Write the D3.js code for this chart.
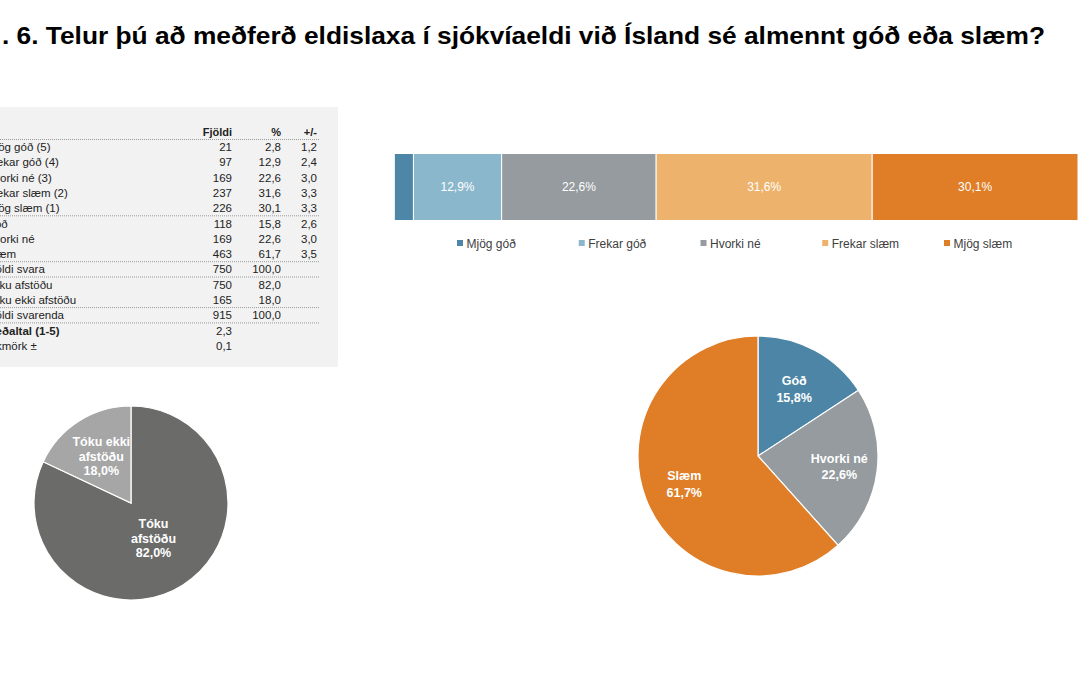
<!DOCTYPE html>
<html>
<head>
<meta charset="utf-8">
<script src="https://cdn.jsdelivr.net/npm/d3@7/dist/d3.min.js"></script>
<style>
  html, body { margin: 0; padding: 0; background: #ffffff; }
  svg { display: block; font-family: "Liberation Sans", Arial, sans-serif; }
</style>
</head>
<body>
<svg id="chart" width="1080" height="675"></svg>
<script>
// ---------- DATA ----------
const titleText = ". 6. Telur þú að meðferð eldislaxa í sjókvíaeldi við Ísland sé almennt góð eða slæm?";

const tableHeaders = ["Fjöldi", "%", "+/-"];
const tableLabels = ["Mjög góð (5)", "Frekar góð (4)", "Hvorki né (3)", "Frekar slæm (2)", "Mjög slæm (1)",
  "Góð", "Hvorki né", "Slæm", "Fjöldi svara", "Tóku afstöðu", "Tóku ekki afstöðu", "Fjöldi svarenda",
  "Meðaltal (1-5)", "Vikmörk ±"];
const tableCounts = ["21", "97", "169", "237", "226", "118", "169", "463", "750", "750", "165", "915", "2,3", "0,1"];
const tablePercents = ["2,8", "12,9", "22,6", "31,6", "30,1", "15,8", "22,6", "61,7", "100,0", "82,0", "18,0", "100,0", "", ""];
const tableMargins = ["1,2", "2,4", "3,0", "3,3", "3,3", "2,6", "3,0", "3,5", "", "", "", "", "", ""];
const tableBoldRows = [12];
const tableRulesAfter = [4, 7, 8, 10, 11];

const barCategories = ["Mjög góð", "Frekar góð", "Hvorki né", "Frekar slæm", "Mjög slæm"];
const barValues = [2.8, 12.9, 22.6, 31.6, 30.1];
const barColors = ["#4d86a6", "#8ab7cc", "#959b9e", "#edb36c", "#e07e28"];

const rightPieLabels = ["Góð", "Hvorki né", "Slæm"];
const rightPieValues = [15.8, 22.6, 61.7];
const rightPieColors = ["#4c85a5", "#959b9e", "#e07e28"];

const leftPieLabels = [["Tóku", "afstöðu"], ["Tóku ekki", "afstöðu"]];
const leftPieValues = [82.0, 18.0];
const leftPieColors = ["#6b6b6a", "#a6a6a6"];

const fmt = v => d3.format(".1f")(v).replace(".", ",") + "%";

// ---------- DRAW ----------
const svg = d3.select("#chart");

// Title
svg.append("text")
  .attr("x", 2).attr("y", 44)
  .attr("font-size", 24).attr("font-weight", "bold")
  .attr("fill", "#000")
  .attr("textLength", 1043).attr("lengthAdjust", "spacingAndGlyphs")
  .text(titleText);

// ---------- Table ----------
const tbl = svg.append("g");
tbl.append("rect").attr("x", 0).attr("y", 107).attr("width", 338).attr("height", 260)
  .attr("fill", "#f2f2f2");

const rowY = d3.scaleLinear().domain([0, 1]).range([147, 162.3]); // row index -> center y
const headerY = 132;
const colRight = [232, 281, 317];
const labelX = -14;
const tFont = 11.5;

tableHeaders.forEach((h, i) => {
  tbl.append("text").attr("x", colRight[i]).attr("y", headerY + 4)
    .attr("text-anchor", "end").attr("font-size", tFont - 0.5).attr("font-weight", "bold")
    .attr("fill", "#222").text(h);
});

const rules = [headerY + 7.5].concat(tableRulesAfter.map(i => rowY(i) + 7.6));
tbl.selectAll("line.rule").data(rules).enter().append("line")
  .attr("x1", 0).attr("x2", 319)
  .attr("y1", d => d).attr("y2", d => d)
  .attr("stroke", "#9a9a9a").attr("stroke-width", 1)
  .attr("stroke-dasharray", "1,1");

tableLabels.forEach((lab, i) => {
  const y = rowY(i) + 4;
  const bold = tableBoldRows.includes(i) ? "bold" : "normal";
  tbl.append("text").attr("x", labelX).attr("y", y).attr("font-size", tFont)
    .attr("font-weight", bold).attr("fill", "#222").text(lab);
  [tableCounts[i], tablePercents[i], tableMargins[i]].forEach((v, c) => {
    if (v === "") return;
    tbl.append("text").attr("x", colRight[c]).attr("y", y).attr("text-anchor", "end")
      .attr("font-size", tFont).attr("fill", "#222").text(v);
  });
});

// ---------- Stacked bar ----------
const barX = d3.scaleLinear().domain([0, 100]).range([394.3, 1078]);
const barTop = 153.5, barH = 67;
let cum = 0;
const segs = barValues.map((v, i) => { const s = { v, i, x0: cum, x1: cum + v }; cum += v; return s; });
const barG = svg.append("g");
barG.selectAll("rect").data(segs).enter().append("rect")
  .attr("x", d => barX(d.x0)).attr("y", barTop)
  .attr("width", d => barX(d.x1) - barX(d.x0)).attr("height", barH)
  .attr("fill", d => barColors[d.i])
  .attr("stroke", "#ffffff").attr("stroke-width", 1);
barG.selectAll("text").data(segs.filter(d => d.v >= 5)).enter().append("text")
  .attr("x", d => (barX(d.x0) + barX(d.x1)) / 2).attr("y", barTop + barH / 2 + 4)
  .attr("text-anchor", "middle").attr("font-size", 12).attr("fill", "#ffffff")
  .text(d => fmt(d.v));

// Legend
const legX = d3.scalePoint().domain(barCategories).range([457, 944]);
const leg = svg.append("g");
barCategories.forEach((c, i) => {
  leg.append("rect").attr("x", legX(c)).attr("y", 240).attr("width", 6).attr("height", 6)
    .attr("fill", barColors[i]);
  leg.append("text").attr("x", legX(c) + 9.5).attr("y", 247.5).attr("font-size", 12)
    .attr("fill", "#404040").text(c);
});

// ---------- Pies ----------
function drawPie(cx, cy, r, values, colors, labels, labelRadii, fontSize, lineH) {
  const g = svg.append("g").attr("transform", `translate(${cx},${cy})`);
  const arcs = d3.pie().sort(null).value(d => d)(values);
  const arc = d3.arc().innerRadius(0).outerRadius(r);
  g.selectAll("path").data(arcs).enter().append("path")
    .attr("d", arc).attr("fill", (d, i) => colors[i])
    .attr("stroke", "#ffffff").attr("stroke-width", 1.2);
  arcs.forEach((d, i) => {
    const lr = labelRadii[i];
    const c = d3.arc().innerRadius(lr).outerRadius(lr).centroid(d);
    const lines = labels[i].concat([fmt(values[i])]);
    const t = g.append("text").attr("text-anchor", "middle").attr("font-size", fontSize)
      .attr("font-weight", "bold").attr("fill", "#ffffff");
    const y0 = c[1] - (lines.length - 1) * lineH / 2 + fontSize * 0.35;
    lines.forEach((ln, k) => {
      t.append("tspan").attr("x", c[0]).attr("y", y0 + k * lineH).text(ln);
    });
  });
}

drawPie(758, 456, 120, rightPieValues, rightPieColors, rightPieLabels.map(d => [d]), [76, 82, 79], 12.5, 16.5);
drawPie(131, 503, 97, leftPieValues, leftPieColors, leftPieLabels, [42, 55.5], 12.5, 14.5);
</script>
</body>
</html>
